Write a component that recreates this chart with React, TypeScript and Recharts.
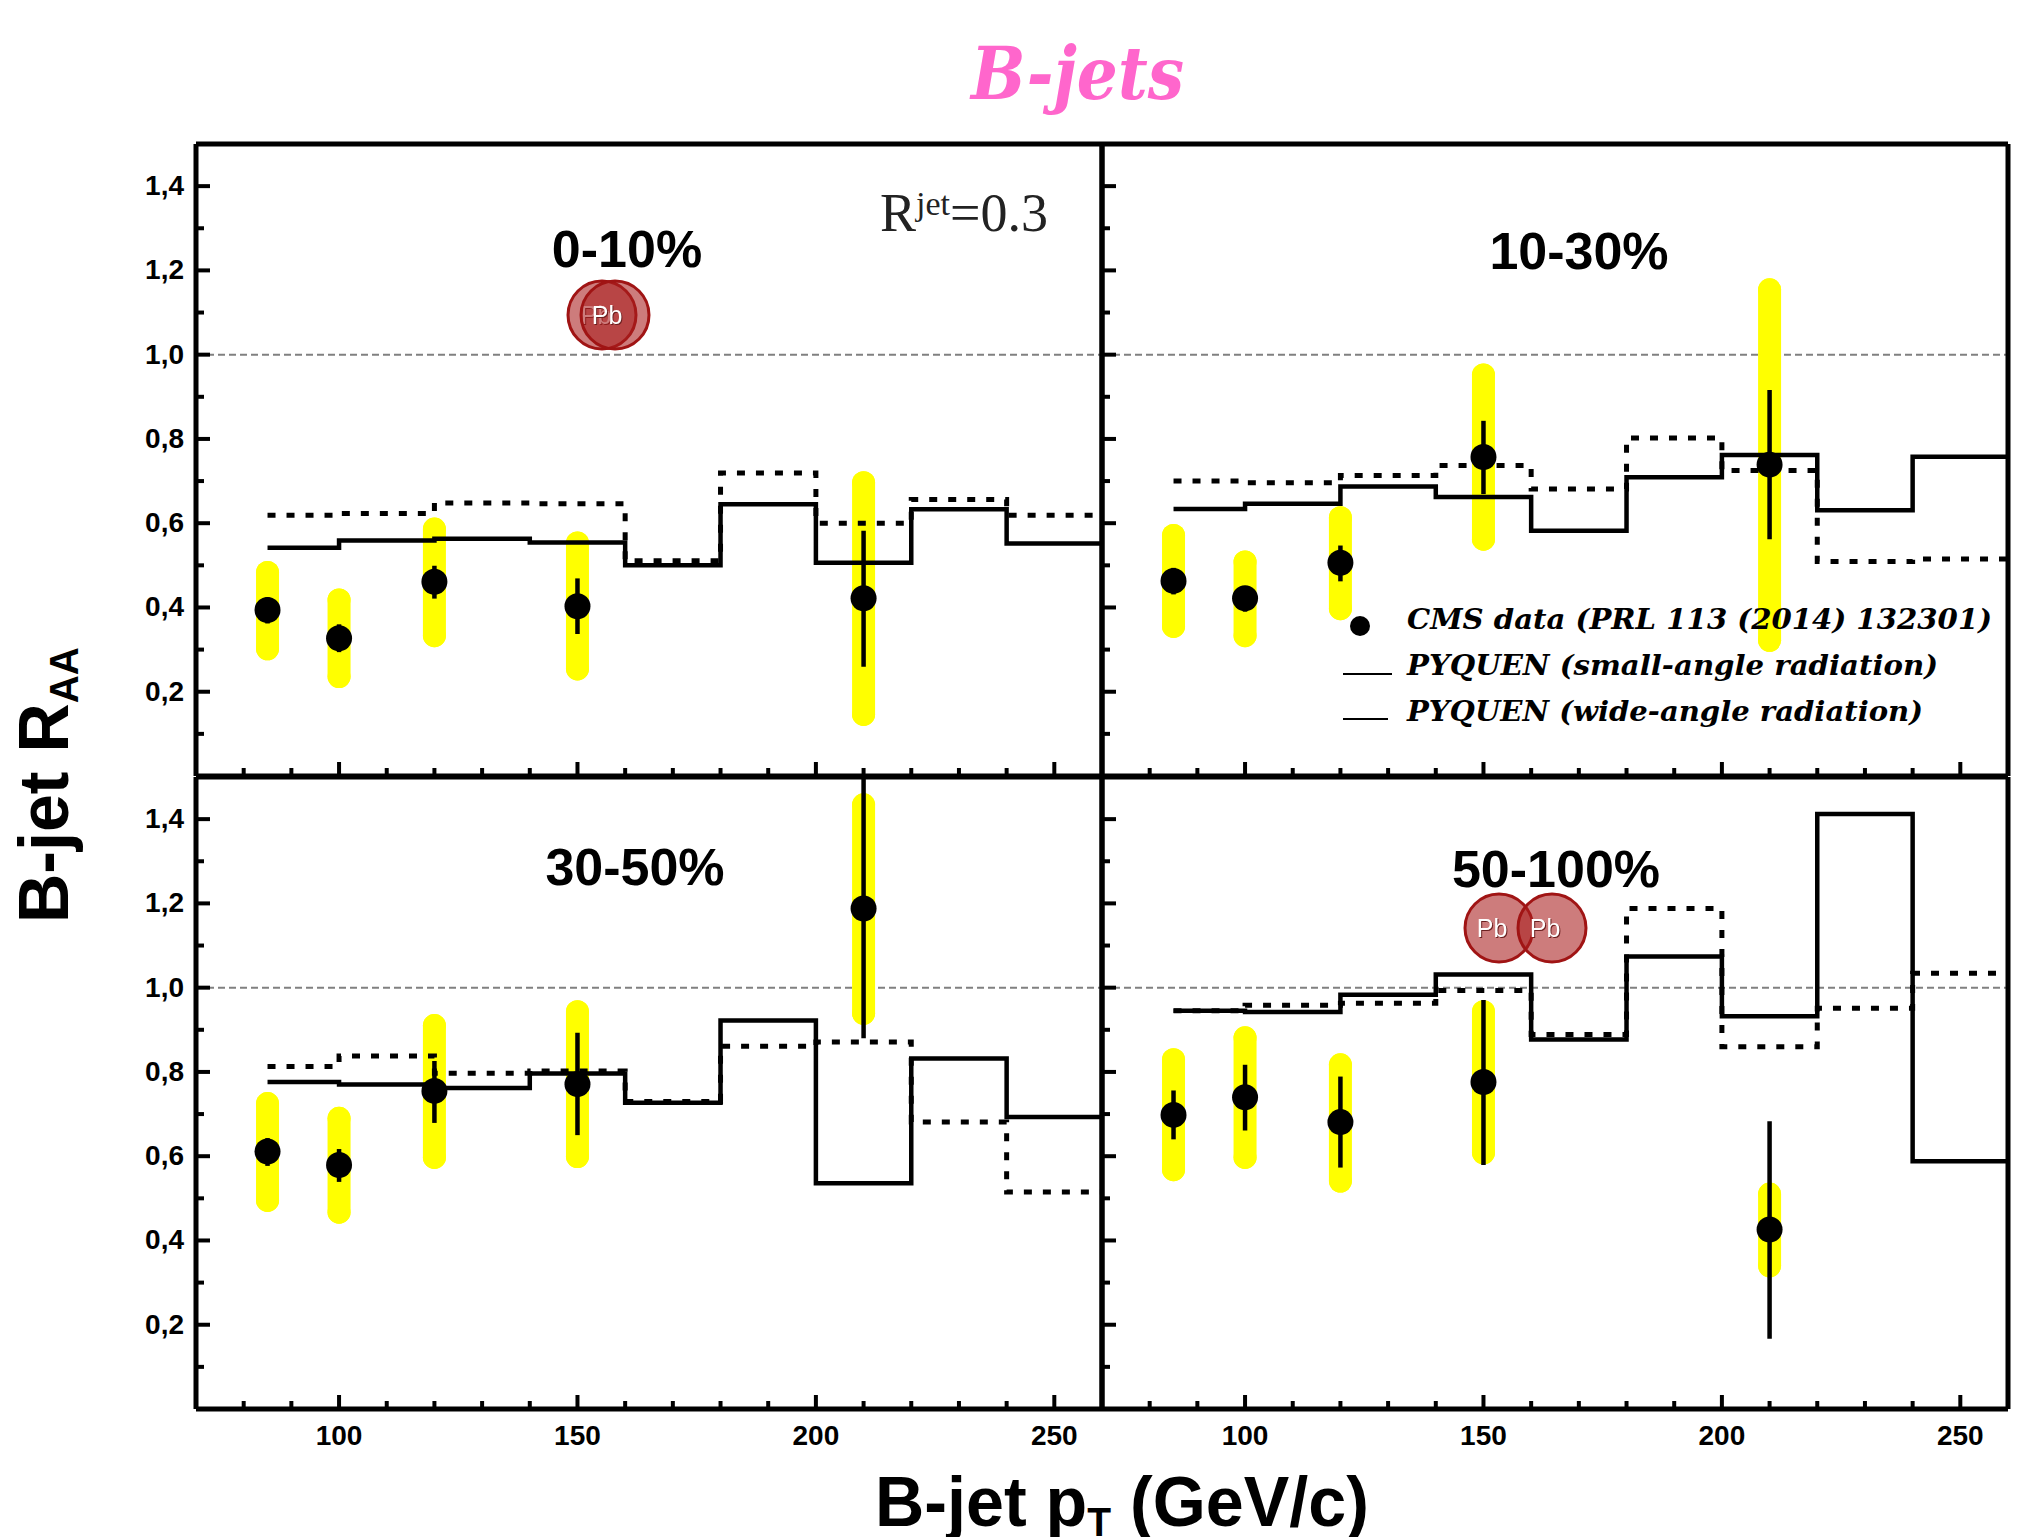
import React from 'react'
import {
  ComposedChart,
  ErrorBar,
  Line,
  ReferenceLine,
  Scatter,
  XAxis,
  YAxis,
} from 'recharts'

// bin edges of the PYQUEN histograms, the last edge only closes the step
const binEdges = [85, 100, 120, 140, 160, 180, 200, 220, 240, 260]
const dataPt = [85, 100, 120, 150, 210]

const xTicks = [80, 90, 100, 110, 120, 130, 140, 150, 160, 170, 180, 190, 200, 210, 220, 230, 240, 250]
const yTicks = [0.1, 0.2, 0.3, 0.4, 0.5, 0.6, 0.7, 0.8, 0.9, 1.0, 1.1, 1.2, 1.3, 1.4]

// 0-10%
const small010 = [0.542, 0.559, 0.563, 0.554, 0.5, 0.645, 0.506, 0.633, 0.552, 0.552]
const wide010 = [0.619, 0.623, 0.648, 0.646, 0.511, 0.719, 0.6, 0.656, 0.619, 0.619]
const raa010 = [0.394, 0.327, 0.461, 0.403, 0.422]
const statLow010 = [0.362, 0.294, 0.421, 0.337, 0.259]
const statHigh010 = [0.424, 0.36, 0.499, 0.469, 0.582]
const sysLow010 = [0.302, 0.236, 0.333, 0.254, 0.146]
const sysHigh010 = [0.483, 0.418, 0.586, 0.553, 0.696]

// 10-30%
const small1030 = [0.634, 0.646, 0.687, 0.662, 0.582, 0.709, 0.762, 0.631, 0.758, 0.758]
const wide1030 = [0.7, 0.696, 0.713, 0.737, 0.681, 0.802, 0.725, 0.509, 0.515, 0.515]
const raa1030 = [0.463, 0.422, 0.506, 0.757, 0.739]
const statLow1030 = [0.431, 0.39, 0.462, 0.669, 0.562]
const statHigh1030 = [0.494, 0.45, 0.547, 0.843, 0.916]
const sysLow1030 = [0.355, 0.333, 0.397, 0.562, 0.322]
const sysHigh1030 = [0.571, 0.508, 0.613, 0.952, 1.154]

// 30-50%
const small3050 = [0.776, 0.77, 0.762, 0.796, 0.727, 0.922, 0.536, 0.832, 0.693, 0.693]
const wide3050 = [0.813, 0.838, 0.797, 0.802, 0.73, 0.861, 0.871, 0.681, 0.515, 0.515]
const raa3050 = [0.611, 0.579, 0.755, 0.771, 1.188]
const statLow3050 = [0.577, 0.539, 0.679, 0.65, 0.88]
const statHigh3050 = [0.643, 0.617, 0.826, 0.893, 1.5]
const sysLow3050 = [0.495, 0.467, 0.597, 0.599, 0.939]
const sysHigh3050 = [0.725, 0.69, 0.91, 0.943, 1.434]

// 50-100%
const small50100 = [0.945, 0.942, 0.983, 1.031, 0.877, 1.074, 0.932, 1.412, 0.588, 0.588]
const wide50100 = [0.945, 0.958, 0.963, 0.993, 0.889, 1.188, 0.86, 0.951, 1.034, 1.034]
const raa50100 = [0.698, 0.74, 0.681, 0.776, 0.426]
const statLow50100 = [0.64, 0.661, 0.573, 0.579, 0.167]
const statHigh50100 = [0.756, 0.817, 0.789, 0.971, 0.683]
const sysLow50100 = [0.568, 0.597, 0.541, 0.608, 0.34]
const sysHigh50100 = [0.829, 0.881, 0.817, 0.943, 0.51]

const SANS = '"Liberation Sans", Arial, sans-serif'
const SERIF = '"Liberation Serif", serif'
const DEJA = '"DejaVu Serif", serif'

const steps = (values: number[]) => binEdges.map((pt, i) => ({ pt, v: values[i] }))

const points = (r: number[], sl: number[], sh: number[], yl: number[], yh: number[]) =>
  dataPt.map((pt, i) => ({
    pt,
    r: r[i],
    stat: [r[i] - sl[i], sh[i] - r[i]],
    sys: [r[i] - yl[i], yh[i] - r[i]],
  }))

const XTick = ({ x, y, payload, side, labels }: any) => {
  const major = payload.value % 50 === 0
  const len = major ? 14 : 8
  const dir = side === 'bottom' ? -1 : 1
  return (
    <g>
      <line x1={x} x2={x} y1={y} y2={y + dir * len} stroke="#000" strokeWidth={4} />
      {labels && major && (
        <text x={x} y={y + 36} textAnchor="middle" fontFamily={SANS} fontWeight="bold" fontSize={28} fill="#000">
          {payload.value}
        </text>
      )}
    </g>
  )
}

const YTick = ({ x, y, payload, side, labels }: any) => {
  const major = Math.round(payload.value * 10) % 2 === 0
  const len = major ? 14 : 8
  const dir = side === 'left' ? 1 : -1
  return (
    <g>
      <line x1={x} x2={x + dir * len} y1={y} y2={y} stroke="#000" strokeWidth={4} />
      {labels && major && (
        <text x={x - 12} y={y + 9} textAnchor="end" fontFamily={SANS} fontWeight="bold" fontSize={28} fill="#000">
          {payload.value.toFixed(1).replace('.', ',')}
        </text>
      )}
    </g>
  )
}

const Dot = ({ cx, cy }: any) => <circle cx={cx} cy={cy} r={13} fill="#000" />
const NoDot = () => <g />

interface PanelProps {
  left: number
  top: number
  small: number[]
  wide: number[]
  data: ReturnType<typeof points>
  xLabels?: boolean
  yLabels?: boolean
}

const PLOT_W = 906
const PLOT_H = 632
const PAD = 70
// recharts skips an axis of zero size, so each one keeps 1px of room
const AXIS = 1
const INSET = PAD - AXIS

const axisLine = { stroke: '#000', strokeWidth: 5 }

const Panel = ({ left, top, small, wide, data, xLabels, yLabels }: PanelProps) => (
  <div style={{ position: 'absolute', left: left - PAD, top: top - PAD }}>
    <ComposedChart
      width={PLOT_W + PAD * 2}
      height={PLOT_H + PAD * 2}
      margin={{ top: INSET, right: INSET, bottom: INSET, left: INSET }}
    >
      <XAxis
        xAxisId="b"
        type="number"
        dataKey="pt"
        domain={[70, 260]}
        ticks={xTicks}
        interval={0}
        height={AXIS}
        tickSize={0}
        tickMargin={0}
        axisLine={axisLine}
        tickLine={false}
        tick={<XTick side="bottom" labels={xLabels} />}
      />
      <XAxis
        xAxisId="t"
        orientation="top"
        type="number"
        dataKey="pt"
        domain={[70, 260]}
        ticks={xTicks}
        interval={0}
        height={AXIS}
        tickSize={0}
        tickMargin={0}
        axisLine={axisLine}
        tickLine={false}
        tick={<XTick side="top" />}
      />
      <YAxis
        yAxisId="l"
        type="number"
        domain={[0, 1.5]}
        ticks={yTicks}
        interval={0}
        width={AXIS}
        tickSize={0}
        tickMargin={0}
        axisLine={axisLine}
        tickLine={false}
        tick={<YTick side="left" labels={yLabels} />}
      />
      <YAxis
        yAxisId="r"
        orientation="right"
        type="number"
        domain={[0, 1.5]}
        ticks={yTicks}
        interval={0}
        width={AXIS}
        tickSize={0}
        tickMargin={0}
        axisLine={axisLine}
        tickLine={false}
        tick={<YTick side="right" />}
      />
      <ReferenceLine xAxisId="b" yAxisId="l" y={1} stroke="#808080" strokeWidth={2} strokeDasharray="7 4" />
      <Scatter
        xAxisId="b"
        yAxisId="l"
        data={data}
        dataKey="r"
        shape={NoDot}
        isAnimationActive={false}
      >
        <ErrorBar
          direction="y"
          dataKey="sys"
          width={0}
          stroke="#ffff00"
          strokeWidth={23}
          strokeLinecap="round"
          isAnimationActive={false}
        />
      </Scatter>
      <Line
        xAxisId="b"
        yAxisId="l"
        data={steps(wide)}
        dataKey="v"
        type="stepAfter"
        stroke="#000"
        strokeWidth={5}
        strokeDasharray="8 11"
        dot={false}
        isAnimationActive={false}
      />
      <Line
        xAxisId="b"
        yAxisId="l"
        data={steps(small)}
        dataKey="v"
        type="stepAfter"
        stroke="#000"
        strokeWidth={4.5}
        dot={false}
        isAnimationActive={false}
      />
      <Scatter
        xAxisId="b"
        yAxisId="l"
        data={data}
        dataKey="r"
        shape={Dot}
        isAnimationActive={false}
      >
        <ErrorBar
          direction="y"
          dataKey="stat"
          width={0}
          stroke="#000"
          strokeWidth={4.5}
          isAnimationActive={false}
        />
      </Scatter>
    </ComposedChart>
  </div>
)

const PbLabel = ({ x, y }: { x: number; y: number }) => (
  <text
    x={x}
    y={y}
    textAnchor="middle"
    fontFamily={SANS}
    fontSize={25}
    fill="#fff"
    style={{ filter: 'drop-shadow(1px 1px 0 #6b2020)' }}
  >
    Pb
  </text>
)

// the second nucleus goes over the first label, which dims it where they overlap
const Nuclei = ({ c1, c2, cy, t1, t2 }: { c1: number; c2: number; cy: number; t1: number; t2: number }) => (
  <g>
    <circle cx={c1} cy={cy} r={34} fill="#a81e1e" fillOpacity={0.58} stroke="#a01414" strokeWidth={3} />
    <PbLabel x={t1} y={cy + 9} />
    <circle cx={c2} cy={cy} r={34} fill="#a81e1e" fillOpacity={0.58} stroke="#a01414" strokeWidth={3} />
    <PbLabel x={t2} y={cy + 9} />
  </g>
)

const centerLabels = [
  { text: '0-10%', x: 627, y: 267 },
  { text: '10-30%', x: 1579, y: 269 },
  { text: '30-50%', x: 635, y: 885 },
  { text: '50-100%', x: 1556, y: 887 },
]

const legendRows = [
  { text: 'CMS data (PRL 113 (2014) 132301)', y: 629, w: 585 },
  { text: 'PYQUEN (small-angle radiation)', y: 675, w: 531 },
  { text: 'PYQUEN (wide-angle radiation)', y: 721, w: 516 },
]

const Annotations = () => (
  <svg
    width={2022}
    height={1537}
    style={{ position: 'absolute', left: 0, top: 0, pointerEvents: 'none' }}
  >
    <text
      x={971}
      y={99}
      fontFamily={DEJA}
      fontWeight="bold"
      fontStyle="italic"
      fontSize={72}
      fill="#ff66cc"
      textLength={213}
      lengthAdjust="spacingAndGlyphs"
    >
      B-jets
    </text>

    {centerLabels.map((l) => (
      <text key={l.text} x={l.x} y={l.y} textAnchor="middle" fontFamily={SANS} fontWeight="bold" fontSize={52} fill="#000">
        {l.text}
      </text>
    ))}

    <text x={880} y={231} fontFamily={SERIF} fontSize={54} fill="#222">
      R<tspan fontSize={34} dy={-16}>jet</tspan>
      <tspan dy={16}>=0.3</tspan>
    </text>

    <Nuclei c1={602} c2={615} cy={315} t1={596} t2={607} />
    <Nuclei c1={1499} c2={1552} cy={928} t1={1492} t2={1545} />

    <circle cx={1360} cy={626} r={10} fill="#000" />
    <line x1={1343} x2={1392} y1={674} y2={674} stroke="#000" strokeWidth={2} />
    <line x1={1343} x2={1388} y1={719} y2={719} stroke="#000" strokeWidth={2} />
    {legendRows.map((r) => (
      <text
        key={r.text}
        x={1407}
        y={r.y}
        fontFamily={DEJA}
        fontWeight="bold"
        fontStyle="italic"
        fontSize={28}
        fill="#000"
        textLength={r.w}
        lengthAdjust="spacingAndGlyphs"
      >
        {r.text}
      </text>
    ))}

    <text
      x={875}
      y={1526}
      fontFamily={SANS}
      fontWeight="bold"
      fontSize={70}
      fill="#000"
      textLength={494}
      lengthAdjust="spacingAndGlyphs"
    >
      B-jet p<tspan fontSize={40} dy={10}>T</tspan>
      <tspan dy={-10}> (GeV/c)</tspan>
    </text>

    <text
      transform="translate(68 923) rotate(-90)"
      fontFamily={SANS}
      fontWeight="bold"
      fontSize={70}
      fill="#000"
      textLength={276}
      lengthAdjust="spacingAndGlyphs"
    >
      B-jet R<tspan fontSize={40} dy={10}>AA</tspan>
    </text>
  </svg>
)

export default function App() {
  return (
    <div style={{ position: 'absolute', left: 0, top: 0, width: 2022, height: 1537, background: '#fff', overflow: 'hidden' }}>
      <Panel
        left={196}
        top={144}
        small={small010}
        wide={wide010}
        data={points(raa010, statLow010, statHigh010, sysLow010, sysHigh010)}
        yLabels
      />
      <Panel
        left={1102}
        top={144}
        small={small1030}
        wide={wide1030}
        data={points(raa1030, statLow1030, statHigh1030, sysLow1030, sysHigh1030)}
      />
      <Panel
        left={196}
        top={777}
        small={small3050}
        wide={wide3050}
        data={points(raa3050, statLow3050, statHigh3050, sysLow3050, sysHigh3050)}
        xLabels
        yLabels
      />
      <Panel
        left={1102}
        top={777}
        small={small50100}
        wide={wide50100}
        data={points(raa50100, statLow50100, statHigh50100, sysLow50100, sysHigh50100)}
        xLabels
      />
      <Annotations />
    </div>
  )
}
